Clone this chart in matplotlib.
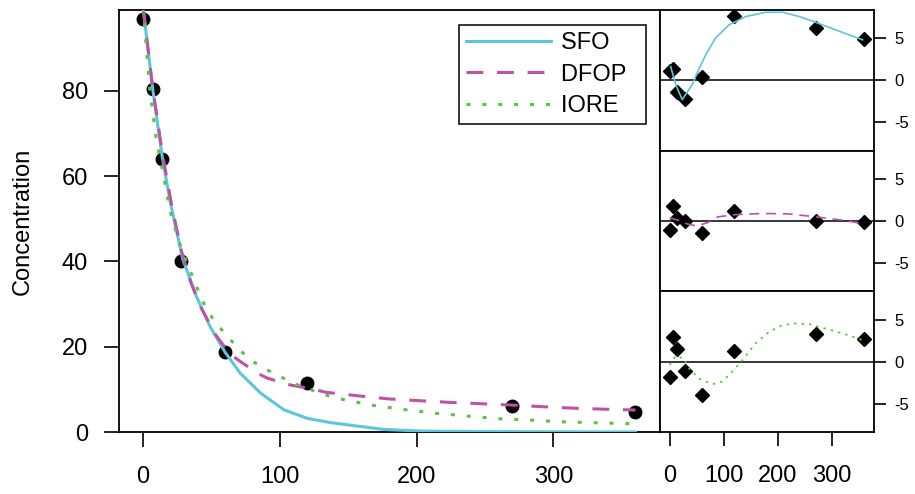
import matplotlib
matplotlib.use("Agg")
import matplotlib.pyplot as plt

plt.rcParams['font.family'] = ['Liberation Sans', 'DejaVu Sans']
plt.rcParams['axes.unicode_minus'] = False

# observed data
time = [0, 7, 14, 28, 60, 120, 270, 360]
conc = [96.9, 80.5, 64.1, 40.0, 18.7, 11.4, 6.2, 4.7]

# fitted curves
sfo_t = [0, 7, 14, 20, 29, 39, 49, 60, 71, 86, 103, 120, 137, 154, 176, 205, 250, 300, 360]
sfo_c = [99.5, 80.5, 64.5, 53.7, 40.5, 31.8, 24.7, 18.7, 13.8, 9.1, 5.2, 3.2, 2.2, 1.5, 0.6, 0.2, 0.1, 0.05, 0.0]

dfop_t = [0, 7, 14, 21, 28, 35, 42, 53, 60, 66, 73, 86, 91, 108, 120, 134, 158, 180, 204, 227, 249, 271, 294, 317, 342, 360]
dfop_c = [99.5, 80.8, 65.5, 53.0, 42.5, 35.0, 29.4, 22.8, 19.8, 17.7, 16.1, 13.4, 12.6, 11.0, 10.3, 9.3, 8.45, 7.75, 7.3, 6.9, 6.6, 6.3, 5.9, 5.55, 5.3, 5.15]

iore_t = [0, 5, 9.5, 14.4, 18.5, 21, 28.3, 43, 48.5, 55, 62.4, 69.7, 79.5, 88, 97.8, 110, 122, 133, 145, 167, 190, 213.6, 236.8, 260, 283, 305, 328, 350, 360]
iore_c = [99.5, 80.0, 69.0, 61.0, 54.0, 50.2, 42.7, 31.0, 27.7, 24.9, 22.2, 19.5, 16.7, 15.0, 13.4, 11.4, 10.0, 8.7, 7.7, 6.3, 5.3, 4.4, 3.75, 3.1, 2.8, 2.4, 2.2, 2.0, 1.9]

# residuals (observed - fitted)
res_sfo = [1.07, 1.35, -1.39, -2.18, 0.36, 7.74, 6.3, 4.96]
res_dfop = [-1.07, 1.79, 0.32, 0.0, -1.39, 1.23, 0.0, -0.08]
res_iore = [-1.87, 2.98, 1.51, -1.07, -4.0, 1.31, 3.25, 2.74]

# smooth lines through the residuals
sm_sfo_t = [2, 12, 23.5, 42, 51, 67, 85, 110, 141, 178, 209, 240, 270, 307, 357]
sm_sfo_v = [1.67, -0.6, -2.3, -0.5, 0.87, 3.06, 5.04, 6.63, 7.62, 8.13, 8.13, 7.62, 6.94, 6.03, 4.84]
sm_dfop_t = [0, 15, 30, 50, 70, 90, 120, 170, 220, 270, 320, 360]
sm_dfop_v = [0.4, 0.1, -0.3, -0.6, -0.2, 0.5, 0.75, 0.9, 0.85, 0.5, 0.1, -0.35]
sm_iore_t = [0, 11, 26.5, 36, 54, 79, 97.5, 116, 135, 159, 184, 209, 233, 258, 283, 320, 357]
sm_iore_v = [-0.4, 0.67, 0.4, -0.8, -2.0, -2.7, -2.38, -1.19, 0.2, 2.18, 3.57, 4.37, 4.56, 4.48, 4.05, 3.37, 2.58]

col_sfo = '#5CC6DC'
col_dfop = '#BE52A8'
col_iore = '#5EC14A'

W, H = 915, 494


def rect(l, t, r, b):
    return [l / W, 1 - b / H, (r - l) / W, (b - t) / H]


fig = plt.figure(figsize=(W / 100, H / 100), dpi=100)
xlim = (-17.6, 378)

ax = fig.add_axes(rect(119, 10.5, 660, 432))
ax.plot(time, conc, 'o', color='black', ms=9, zorder=2)
ax.plot(sfo_t, sfo_c, color=col_sfo, lw=2.2, label='SFO', zorder=3)
ax.plot(dfop_t, dfop_c, color=col_dfop, lw=2.2, ls=(0, (5.5, 4.5)), label='DFOP', zorder=3)
ax.plot(iore_t, iore_c, color=col_iore, lw=2.2, ls=(0, (1.3, 3.9)), label='IORE', zorder=3)
ax.set_xlim(xlim)
ax.set_ylim(0, 98.8)
ax.set_xticks([0, 100, 200, 300])
ax.set_yticks([0, 20, 40, 60, 80])
ax.tick_params(direction='out', length=10.8, width=1.2, labelsize=17, pad=11.5)
ax.tick_params(axis='x', pad=14)
for s in ax.spines.values():
    s.set_linewidth(1.3)
ax.set_ylabel('Concentration', fontsize=17)
ax.yaxis.set_label_coords(-0.157, 0.5)
leg = ax.legend(loc='upper right', bbox_to_anchor=(0.974, 0.9656), borderaxespad=0,
                fontsize=17, handlelength=3.6, handletextpad=0.42, labelspacing=0.4,
                borderpad=0.3, fancybox=False, framealpha=1)
for t in leg.get_texts():
    t.set_text(t.get_text() + '  ')
leg.get_frame().set_edgecolor('black')
leg.get_frame().set_linewidth(1.1)

panels = [
    (rect(660, 10, 874, 150.7), res_sfo, sm_sfo_t, sm_sfo_v, col_sfo, '-'),
    (rect(660, 150.7, 874, 291.3), res_dfop, sm_dfop_t, sm_dfop_v, col_dfop, (0, (6, 4))),
    (rect(660, 291.3, 874, 432), res_iore, sm_iore_t, sm_iore_v, col_iore, (0, (1.5, 3))),
]
for i, (r, res, st, sv, col, ls) in enumerate(panels):
    a = fig.add_axes(r)
    a.axhline(0, color='black', lw=1.1, zorder=1)
    a.plot(time, res, 'D', color='black', ms=7, zorder=2)
    a.plot(st, sv, color=col, lw=1.2, ls=ls, zorder=3)
    a.set_xlim(xlim)
    a.set_ylim(-8.4, 8.4)
    a.set_yticks([-5, 0, 5])
    a.yaxis.tick_right()
    a.tick_params(axis='y', direction='out', length=8.6, width=1.2, labelsize=12, pad=6)
    a.set_xticks([0, 100, 200, 300])
    if i < 2:
        a.tick_params(axis='x', bottom=False, labelbottom=False)
    else:
        a.tick_params(axis='x', direction='out', length=10, width=1.2, labelsize=17, pad=14)
    for s in a.spines.values():
        s.set_linewidth(1.3)

fig.savefig('out.png', dpi=100)
